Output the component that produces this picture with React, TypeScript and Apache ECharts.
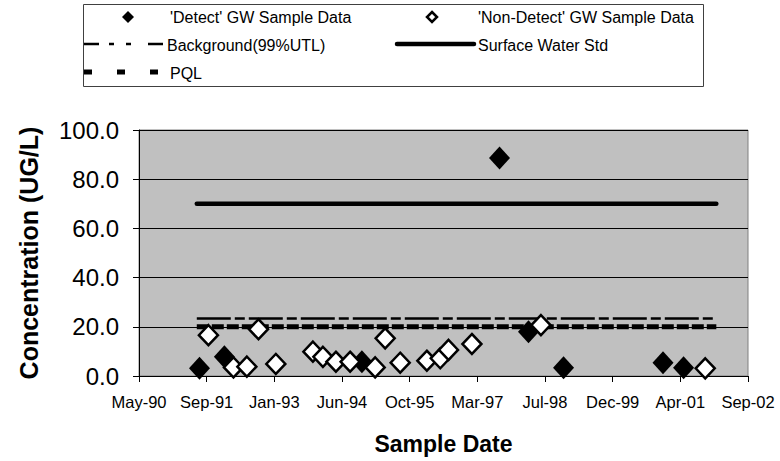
import React, { useEffect, useRef } from "react";
import * as echarts from "echarts";

// Sample dates (ISO) and concentrations (UG/L)
const detectDates = ["1991-07-28", "1992-01-28", "1994-11-09", "1997-08-22", "1998-03-24", "1998-12-08", "2000-12-12", "2001-05-13"];
const detectValues = [3.1, 7.8, 5.8, 88.6, 18.0, 3.4, 5.4, 3.4];

const nonDetectDates = ["1991-10-02", "1992-04-04", "1992-07-12", "1992-10-06", "1993-02-11", "1993-11-12", "1994-01-25", "1994-05-01", "1994-08-14", "1995-02-15", "1995-04-30", "1995-08-19", "1996-03-03", "1996-06-10", "1996-08-10", "1997-01-30", "1998-06-24", "2001-10-20"];
const nonDetectValues = [16.6, 3.5, 3.8, 19.0, 4.9, 9.9, 7.8, 5.8, 5.8, 3.5, 15.3, 5.4, 6.2, 7.2, 10.6, 13.0, 20.7, 3.1];

const limitDates = ["1991-07-08", "2002-01-10"];
const backgroundValue = 23.4;
const surfaceWaterValue = 70;
const pqlValue = 20;

const yTicks = [0, 20, 40, 60, 80, 100];
// Excel serial day numbers for the date axis
const xMinSerial = 33000;
const xMaxSerial = 37500;
const xStepDays = 500;

const MONTHS = ["Jan", "Feb", "Mar", "Apr", "May", "Jun", "Jul", "Aug", "Sep", "Oct", "Nov", "Dec"];
const toSerial = (iso: string) => Date.parse(iso + "T00:00:00Z") / 86400000 + 25569;
const fmtSerial = (v: number) => {
  const d = new Date((v - 25569) * 86400000);
  return MONTHS[d.getUTCMonth()] + "-" + String(d.getUTCFullYear()).slice(2);
};

const FONT = "'Liberation Sans', Arial, sans-serif";

export default function App() {
  const ref = useRef<HTMLDivElement>(null);
  useEffect(() => {
    document.body.style.margin = "0";
    const chart = echarts.init(ref.current!, null, { renderer: "svg" });
    const limitSeries = (name: string, value: number, lineStyle: any) => ({
      name,
      type: "line",
      data: limitDates.map((d) => [toSerial(d), value]),
      showSymbol: false,
      symbol: "none",
      lineStyle,
      z: 2,
    });
    const legendText = (x: number, y: number, text: string) => ({
      type: "text",
      x,
      y,
      style: { text, fill: "#000", font: `16px ${FONT}`, verticalAlign: "middle" },
    });
    chart.setOption({
      animation: false,
      backgroundColor: "#fff",
      grid: {
        left: 139,
        right: 32,
        top: 130,
        bottom: 85,
        show: true,
        backgroundColor: "#C0C0C0",
        borderColor: "#808080",
        borderWidth: 1,
      },
      xAxis: {
        type: "value",
        min: xMinSerial,
        max: xMaxSerial,
        interval: xStepDays,
        name: "Sample Date",
        nameLocation: "middle",
        nameGap: 56,
        nameTextStyle: { fontFamily: FONT, fontSize: 23, fontWeight: "bold", color: "#000" },
        axisLine: { show: true, lineStyle: { color: "#000", width: 1 } },
        axisTick: { show: true, length: 6, lineStyle: { color: "#000" } },
        axisLabel: { formatter: (v: number) => fmtSerial(v), fontFamily: FONT, fontSize: 16.5, color: "#000", margin: 17, showMinLabel: true, showMaxLabel: true },
        splitLine: { show: false },
      },
      yAxis: {
        type: "value",
        min: yTicks[0],
        max: yTicks[yTicks.length - 1],
        interval: yTicks[1] - yTicks[0],
        name: "Concentration (UG/L)",
        nameLocation: "middle",
        nameGap: 98,
        nameTextStyle: { fontFamily: FONT, fontSize: 25, fontWeight: "bold", color: "#000" },
        axisLine: { show: true, lineStyle: { color: "#000", width: 1 } },
        axisTick: { show: true, length: 6, lineStyle: { color: "#000" } },
        axisLabel: { formatter: (v: number) => v.toFixed(1), fontFamily: FONT, fontSize: 24, color: "#000", margin: 20 },
        splitLine: { show: true, lineStyle: { color: "#000", width: 1 } },
      },
      series: [
        limitSeries("Background(99%UTL)", backgroundValue, { color: "#000", width: 2.5, type: [34, 4, 10, 4] }),
        limitSeries("PQL", pqlValue, { color: "#000", width: 5, type: [12, 3] }),
        limitSeries("Surface Water Std", surfaceWaterValue, { color: "#000", width: 4.5, cap: "round" }),
        {
          name: "'Detect' GW Sample Data",
          type: "scatter",
          data: detectDates.map((d, i) => [toSerial(d), detectValues[i]]),
          symbol: "diamond",
          symbolSize: [21, 23],
          itemStyle: { color: "#000", opacity: 1 },
          z: 3,
        },
        {
          name: "'Non-Detect' GW Sample Data",
          type: "scatter",
          data: nonDetectDates.map((d, i) => [toSerial(d), nonDetectValues[i]]),
          symbol: "diamond",
          symbolSize: [19, 20],
          itemStyle: { color: "#fff", borderColor: "#000", borderWidth: 2.5, opacity: 1 },
          z: 4,
        },
      ],
      graphic: [
        { type: "rect", shape: { x: 83.5, y: 4.5, width: 620, height: 82 }, style: { fill: "#fff", stroke: "#404040", lineWidth: 1 } },
        { type: "polygon", shape: { points: [[128, 11], [134, 17], [128, 23], [122, 17]] }, style: { fill: "#000" } },
        legendText(170, 17, "'Detect' GW Sample Data"),
        { type: "polygon", shape: { points: [[432, 12], [437, 17], [432, 22], [427, 17]] }, style: { fill: "#fff", stroke: "#000", lineWidth: 2.5 } },
        legendText(478, 17, "'Non-Detect' GW Sample Data"),
        { type: "line", shape: { x1: 84, y1: 44, x2: 165, y2: 44 }, style: { stroke: "#000", lineWidth: 2.5, lineDash: [15, 10, 5, 12, 5, 17] } },
        legendText(167, 45, "Background(99%UTL)"),
        { type: "line", shape: { x1: 397, y1: 44, x2: 474, y2: 44 }, style: { stroke: "#000", lineWidth: 4.5, lineCap: "round" } },
        legendText(478, 45, "Surface Water Std"),
        { type: "line", shape: { x1: 84, y1: 72, x2: 160, y2: 72 }, style: { stroke: "#000", lineWidth: 5, lineDash: [8, 25] } },
        legendText(170, 73, "PQL"),
      ],
    });
    return () => chart.dispose();
  }, []);
  return <div ref={ref} style={{ width: 780, height: 461 }} />;
}
